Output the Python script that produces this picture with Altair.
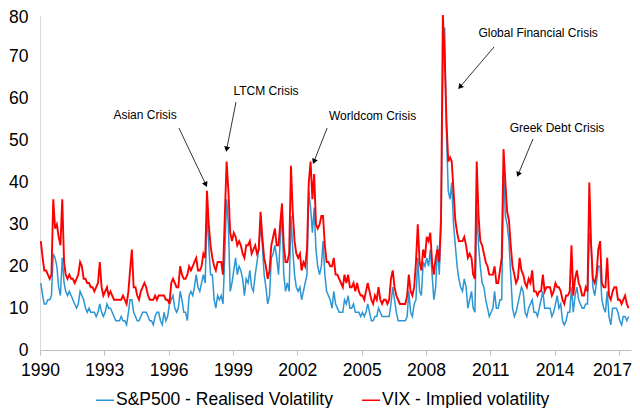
import math
import altair as alt
import pandas as pd

# ---- monthly values (1990-01 .. 2017-06) ----
vix = [
    26, 22, 19, 19, 18, 17, 18, 36, 29, 30, 27, 25,   # 1990
    36, 21, 18, 17, 18, 17, 17, 16, 17, 18, 21, 20,   # 1991
    17, 17, 16, 16, 15, 15, 14, 15, 16, 21, 15, 13,   # 1992
    14, 15, 13, 14, 13, 12, 12, 12, 12, 12, 13, 12,   # 1993
    11, 14, 19, 24, 15, 15, 13, 12, 14, 15, 16, 15,   # 1994
    13, 12, 12, 12, 13, 12, 13, 13, 13, 13, 12, 12,   # 1995
    11, 16, 17, 16, 15, 15, 20, 18, 17, 17, 18, 20,   # 1996
    19, 20, 21, 22, 19, 19, 20, 23, 22, 38, 30, 25,   # 1997
    22, 20, 19, 21, 21, 21, 18, 32, 45, 38, 28, 26,   # 1998
    28, 27, 25, 26, 25, 23, 22, 25, 25, 26, 23, 24,   # 1999
    25, 23, 24, 33, 27, 22, 20, 17, 19, 25, 27, 29,   # 2000
    25, 25, 30, 35, 25, 21, 21, 23, 44, 33, 26, 23,   # 2001
    22, 23, 19, 21, 20, 24, 40, 45, 36, 42, 30, 29,   # 2002
    30, 32, 32, 25, 21, 21, 20, 20, 22, 18, 18, 17,   # 2003
    16, 15, 18, 16, 18, 15, 15, 16, 14, 16, 14, 13,   # 2004
    13, 12, 14, 16, 14, 12, 11, 13, 12, 15, 12, 11,   # 2005
    12, 12, 11, 12, 17, 19, 15, 13, 12, 11, 11, 11,   # 2006
    11, 13, 18, 14, 13, 15, 21, 30, 21, 19, 24, 22,   # 2007
    27, 26, 28, 21, 18, 22, 24, 21, 32, 80, 70, 55,   # 2008
    45, 46, 45, 38, 31, 28, 26, 26, 26, 27, 25, 22,   # 2009
    23, 22, 18, 17, 45, 32, 26, 25, 23, 21, 20, 18,   # 2010
    18, 18, 20, 16, 16, 19, 22, 48, 40, 33, 31, 25,   # 2011
    20, 18, 16, 17, 22, 19, 18, 16, 15, 17, 16, 19,   # 2012
    14, 14, 13, 14, 14, 18, 14, 15, 15, 15, 13, 14,   # 2013
    16, 15, 15, 14, 12, 11, 13, 13, 14, 25, 13, 17,   # 2014
    19, 16, 15, 13, 13, 15, 14, 40, 25, 17, 16, 18,   # 2015
    24, 26, 16, 15, 15, 22, 13, 12, 14, 15, 15, 12,   # 2016
    12, 11, 12, 13, 11, 10,                           # 2017
]

realised = [
    16, 13, 11, 11, 12, 12, 13, 23, 22, 20, 15, 13,   # 1990
    22, 16, 14, 13, 14, 13, 12, 11, 10, 11, 14, 13,   # 1991
    12, 10, 9, 10, 9, 9, 9, 8, 9, 11, 9, 8,           # 1992
    9, 11, 10, 10, 9, 8, 7, 7, 7, 8, 7, 7,            # 1993
    6, 9, 12, 12, 9, 8, 7, 7, 8, 9, 9, 9,             # 1994
    8, 7, 7, 6, 8, 9, 9, 7, 6, 9, 7, 8,               # 1995
    11, 12, 13, 10, 9, 10, 14, 12, 9, 9, 7, 13,       # 1996
    14, 13, 15, 18, 15, 14, 16, 18, 16, 33, 25, 18,   # 1997
    18, 12, 10, 13, 12, 13, 11, 23, 36, 30, 14, 16,   # 1998
    19, 22, 18, 20, 19, 17, 13, 17, 16, 19, 15, 14,   # 1999
    18, 21, 24, 30, 25, 18, 15, 11, 13, 22, 23, 25,   # 2000
    22, 18, 26, 33, 18, 14, 16, 14, 32, 24, 18, 15,   # 2001
    14, 15, 12, 14, 16, 18, 38, 34, 28, 34, 24, 20,   # 2002
    18, 20, 26, 18, 14, 13, 12, 10, 14, 11, 10, 9,    # 2003
    9, 9, 12, 11, 13, 10, 10, 11, 9, 9, 9, 8,         # 2004
    9, 8, 9, 11, 9, 7, 7, 8, 8, 10, 9, 8,             # 2005
    8, 8, 8, 8, 11, 15, 12, 9, 7, 7, 7, 7,            # 2006
    7, 8, 14, 9, 8, 11, 12, 22, 14, 13, 21, 20,       # 2007
    22, 20, 24, 18, 12, 15, 25, 18, 30, 68, 77, 52,   # 2008
    38, 36, 40, 30, 25, 20, 17, 15, 14, 17, 15, 10,   # 2009
    12, 14, 10, 9, 34, 25, 20, 16, 15, 12, 10, 8,     # 2010
    9, 10, 14, 10, 10, 12, 12, 44, 32, 30, 26, 18,    # 2011
    10, 8, 9, 11, 13, 15, 14, 9, 8, 10, 11, 12,       # 2012
    9, 9, 8, 10, 12, 14, 10, 10, 10, 10, 8, 9,        # 2013
    11, 13, 10, 11, 7, 6, 7, 9, 9, 15, 9, 13,         # 2014
    15, 12, 11, 10, 10, 11, 11, 28, 25, 15, 13, 16,   # 2015
    20, 20, 12, 10, 9, 14, 8, 6, 10, 10, 10, 9,       # 2016
    7, 6, 8, 8, 7, 8,                                 # 2017
]

rv_label = "S&P500 - Realised Volatility"
vix_label = "VIX - Implied volatility"
series_names = [rv_label, vix_label]
series_colors = ["#2B96D3", "#FF0000"]

tick_years = list(range(1990, 2018, 3))
y_ticks = list(range(0, 81, 10))

# annotations (positions in data units: decimal year, volatility)
ann_labels = ["Asian Crisis", "LTCM Crisis", "Worldcom Crisis",
              "Global Financial Crisis", "Greek Debt Crisis"]
ann_text_year = [1994.90, 2000.54, 2005.51, 2013.23, 2014.11]
ann_text_val = [56.1, 61.9, 55.9, 75.7, 53.0]
arrow_from_year = [1996.48, 1999.14, 2003.39, 2011.18, 2012.99]
arrow_from_val = [53.0, 59.2, 53.0, 72.4, 50.4]
arrow_to_year = [1997.79, 1998.68, 2002.73, 2009.50, 2012.25]
arrow_to_val = [38.9, 47.3, 44.4, 62.3, 41.3]

# ---- build tables ----
n = len(vix)
dates = pd.date_range("1990-01-01", periods=n, freq="MS") + pd.Timedelta(days=14)
df = pd.DataFrame({
    "date": list(dates) * 2,
    "value": realised + vix,
    "series": [rv_label] * n + [vix_label] * n,
})

origin = pd.Timestamp("1990-01-01")
dom_end = pd.Timestamp("2017-07-25")
W, H = 591, 335
px_per_year = W / ((dom_end - origin).days / 365.25)
px_per_unit = H / 80.0


def yr2ts(y):
    return origin + pd.Timedelta(days=(y - 1990) * 365.25)


txt_df = pd.DataFrame({
    "label": ann_labels,
    "date": [yr2ts(y) for y in ann_text_year],
    "value": ann_text_val,
})

rule_rows, head_rows = [], []
tri_h = 2.8
for fy, fv, ty, tv in zip(arrow_from_year, arrow_from_val, arrow_to_year, arrow_to_val):
    dx = (ty - fy) * px_per_year
    dy = -(tv - fv) * px_per_unit
    L = math.hypot(dx, dy)
    ux, uy = dx / L, dy / L
    ang = math.degrees(math.atan2(dx, -dy)) % 360
    cy = ty - ux * tri_h / px_per_year
    cv = tv + uy * tri_h / px_per_unit
    rule_rows.append({"date": yr2ts(fy), "value": fv, "date2": yr2ts(ty - ux * 3 / px_per_year),
                      "value2": tv + uy * 3 / px_per_unit})
    head_rows.append({"date": yr2ts(cy), "value": cv, "angle": ang})
rule_df = pd.DataFrame(rule_rows)
head_df = pd.DataFrame(head_rows)

# ---- chart ----
x_scale = alt.Scale(domain=[alt.DateTime(year=1990, month=1, date=1),
                            alt.DateTime(year=2017, month=7, date=25)])
y_scale = alt.Scale(domain=[0, 80], nice=False)

last_tick_ms = int((pd.Timestamp("2016-06-01") - pd.Timestamp("1970-01-01")).total_seconds() * 1000)

x_enc = alt.X("date:T", scale=x_scale,
              axis=alt.Axis(values=[alt.DateTime(year=y, month=1, date=1) for y in tick_years],
                            format="%Y", title=None, labelFlush=False,
                            labelOffset={"condition": {"test": f"datum.value > {last_tick_ms}", "value": -7},
                                         "value": 0}))
y_enc = alt.Y("value:Q", scale=y_scale,
              axis=alt.Axis(values=y_ticks, title=None,
                            labelOffset={"condition": {"test": "datum.value >= 80", "value": 2.5},
                                         "value": 0}))

color = alt.Color(
    "series:N",
    scale=alt.Scale(domain=series_names, range=series_colors),
    legend=alt.Legend(
        title=None, orient="none", legendX=55, legendY=375, direction="horizontal",
        columns=2, symbolType="stroke", symbolSize=324, symbolStrokeWidth=1.5,
        labelFontSize=17.5, labelLimit=500, labelOffset=1, columnPadding=26,
        padding=0, labelColor="#000",
    ),
)

base = alt.Chart(df)
rv_line = base.transform_filter(alt.datum.series == rv_label).mark_line(
    strokeWidth=1.5).encode(x=x_enc, y=y_enc, color=color)
vix_line = base.transform_filter(alt.datum.series == vix_label).mark_line(
    strokeWidth=1.9).encode(x=x_enc, y=y_enc, color=color)

ax_x = alt.X("date:T", title=None)
ax_y = alt.Y("value:Q", title=None)

texts = alt.Chart(txt_df).mark_text(
    fontSize=12, color="#000", align="center", baseline="middle"
).encode(x=ax_x, y=ax_y, text="label:N")

rules = alt.Chart(rule_df).mark_rule(color="#000", strokeWidth=0.8).encode(
    x=ax_x, y=ax_y, x2="date2:T", y2="value2:Q")

heads = alt.Chart(head_df).mark_point(
    shape="triangle-up", filled=True, color="#000", size=36, opacity=1
).encode(x=ax_x, y=ax_y, angle=alt.Angle("angle:Q", scale=None))

chart = alt.layer(rv_line, vix_line, rules, heads, texts).properties(
    width=W, height=H,
    autosize=alt.AutoSizeParams(type="none"),
    padding={"left": 32, "top": 7, "right": 1, "bottom": 58},
).configure(font="Liberation Sans").configure_view(stroke=None).configure_axis(
    grid=False, labelFontSize=17.5, labelColor="#000", labelFont="Liberation Sans",
).configure_axisX(
    tickSize=5, tickColor="#BFBFBF", domainColor="#BFBFBF", labelPadding=6,
).configure_axisY(
    ticks=False, tickSize=0, domainColor="#D9D9D9", labelPadding=12,
).configure_legend(labelFont="Liberation Sans")

chart.save("out.html", embed_options={"renderer": "svg", "actions": False})
